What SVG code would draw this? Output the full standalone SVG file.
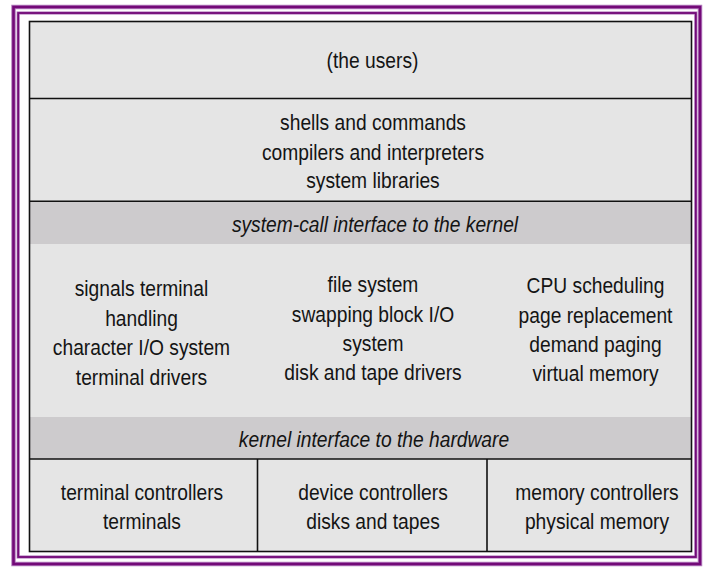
<svg xmlns="http://www.w3.org/2000/svg" width="703" height="567" viewBox="0 0 703 567">
  <style>
    .frame-glow { fill: none; stroke: #b57fbf; }
    .frame { fill: none; stroke: #730a78; }
    .layer { fill: #e5e5e5; }
    .band { fill: #cdcbcd; }
    .rule { stroke: #111; stroke-width: 1.6; fill: none; }
    text { font-family: "Liberation Sans", Arial, sans-serif; font-size: 21.6px; fill: #141414; text-anchor: middle; }
    .it { font-style: italic; }
  </style>

  <!-- double purple frame -->
  <g id="frame">
    <rect class="frame-glow" x="13.5" y="7" width="686.5" height="557" stroke-width="4.5"/>
    <rect class="frame" x="13.5" y="7" width="686.5" height="557" stroke-width="2.6"/>
    <rect class="frame-glow" x="18.2" y="13" width="677.6" height="544" stroke-width="3.2"/>
    <rect class="frame" x="18.2" y="13" width="677.6" height="544" stroke-width="1.8"/>
  </g>

  <!-- layer backgrounds -->
  <rect class="layer" x="29.5" y="21.5" width="662" height="530"/>

  <!-- labels use a narrow Helvetica look: horizontal scale 0.89 -->
  <g id="users">
    <text transform="translate(372.5 68.3) scale(0.89 1)">(the users)</text>
  </g>

  <g id="user-programs">
    <text transform="translate(373 130) scale(0.89 1)">shells and commands</text>
    <text transform="translate(373 159.5) scale(0.89 1)">compilers and interpreters</text>
    <text transform="translate(373 188.3) scale(0.89 1)">system libraries</text>
  </g>

  <g id="syscall-interface">
    <rect class="band" x="29.5" y="202" width="662" height="42"/>
    <text class="it" transform="translate(375 232) scale(0.89 1)">system-call interface to the kernel</text>
  </g>

  <g id="kernel-terminal">
    <text transform="translate(141.5 296) scale(0.89 1)">signals terminal</text>
    <text transform="translate(141.5 325.5) scale(0.89 1)">handling</text>
    <text transform="translate(141.5 355) scale(0.89 1)">character I/O system</text>
    <text transform="translate(141.5 384.5) scale(0.89 1)">terminal drivers</text>
  </g>

  <g id="kernel-files">
    <text transform="translate(373 292) scale(0.89 1)">file system</text>
    <text transform="translate(373 321.5) scale(0.89 1)">swapping block I/O</text>
    <text transform="translate(373 351) scale(0.89 1)">system</text>
    <text transform="translate(373 380) scale(0.89 1)">disk and tape drivers</text>
  </g>

  <g id="kernel-memory">
    <text transform="translate(595.5 293) scale(0.89 1)">CPU scheduling</text>
    <text transform="translate(595.5 322.5) scale(0.89 1)">page replacement</text>
    <text transform="translate(595.5 351.5) scale(0.89 1)">demand paging</text>
    <text transform="translate(595.5 380.5) scale(0.89 1)">virtual memory</text>
  </g>

  <g id="hardware-interface">
    <rect class="band" x="29.5" y="417" width="662" height="42"/>
    <text class="it" transform="translate(374 446.5) scale(0.89 1)">kernel interface to the hardware</text>
  </g>

  <g id="terminal-hw">
    <text transform="translate(142 500) scale(0.89 1)">terminal controllers</text>
    <text transform="translate(142 528.5) scale(0.89 1)">terminals</text>
  </g>

  <g id="device-hw">
    <text transform="translate(373 500) scale(0.89 1)">device controllers</text>
    <text transform="translate(373 528.5) scale(0.89 1)">disks and tapes</text>
  </g>

  <g id="memory-hw">
    <text transform="translate(597 500) scale(0.89 1)">memory controllers</text>
    <text transform="translate(597 528.5) scale(0.89 1)">physical memory</text>
  </g>

  <!-- outline and dividing rules -->
  <g id="connectors">
    <rect class="rule" x="29.5" y="21.5" width="662" height="530"/>
    <line class="rule" x1="29.5" y1="98.5" x2="691.5" y2="98.5"/>
    <line class="rule" x1="29.5" y1="201.3" x2="691.5" y2="201.3"/>
    <line class="rule" x1="29.5" y1="459" x2="691.5" y2="459"/>
    <line class="rule" x1="257.5" y1="459" x2="257.5" y2="551.5"/>
    <line class="rule" x1="487" y1="459" x2="487" y2="551.5"/>
  </g>
</svg>
